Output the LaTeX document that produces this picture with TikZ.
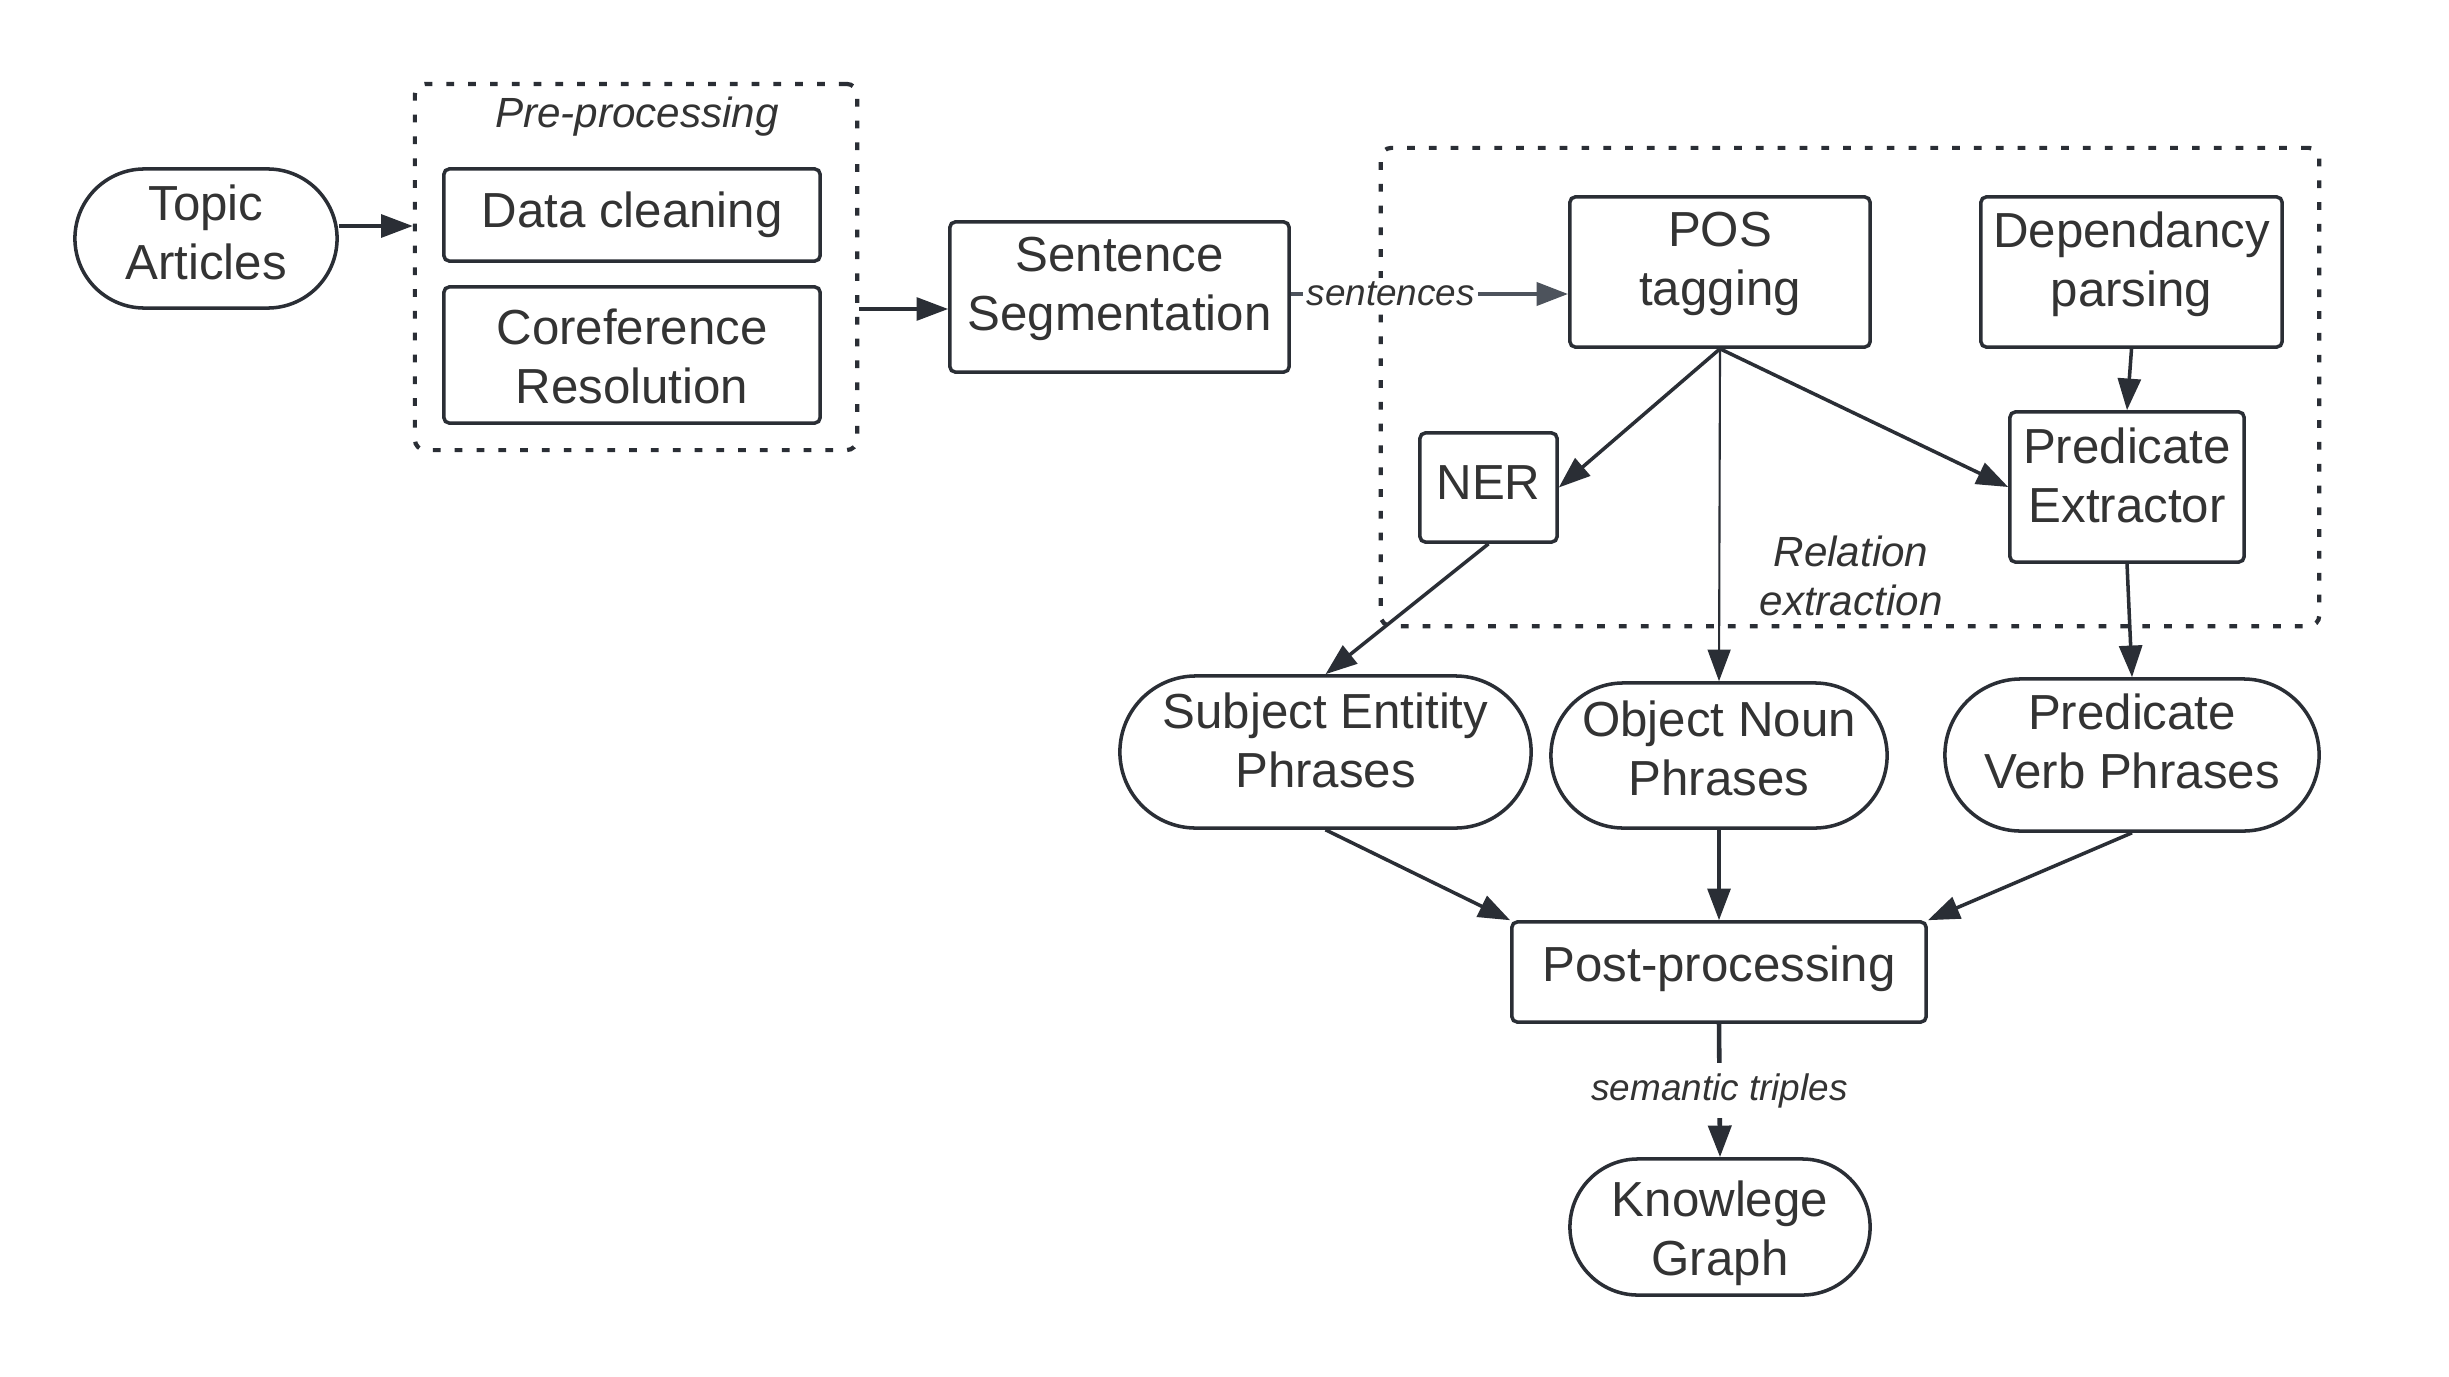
\documentclass[tikz,border=0pt]{standalone}
\usepackage{fontspec}
\setmainfont{Liberation Sans}
\usetikzlibrary{arrows.meta,calc}
\definecolor{ink}{HTML}{2A2E35}
\definecolor{txt}{HTML}{333333}
\definecolor{grayarr}{HTML}{4D535C}
\begin{document}
\begin{tikzpicture}[x=0.01cm,y=-0.01cm,
  box/.style={draw=ink,line width=1pt,rounded corners=1.5pt,inner sep=0pt},
  tx/.style={text=txt,font=\fontsize{14}{16.8}\selectfont,align=center,inner sep=0pt},
  grp/.style={draw=ink,line width=1.2pt,dash pattern=on 2.2pt off 4pt,rounded corners=3pt,inner sep=0pt},
  arr/.style={draw=ink,line width=1pt,-{Triangle[length=9pt,width=6.5pt]}},
  lab/.style={text=txt,font=\fontsize{10.5}{12.6}\selectfont\itshape,inner sep=1pt},
  glab/.style={text=txt,font=\fontsize{12}{14}\selectfont\itshape,align=center,inner sep=0pt}
]
\useasboundingbox[fill=white] (0,0) rectangle (2449,1376);

% group boxes
\node[grp,minimum width=4.42cm,minimum height=3.66cm] (preb) at (636,267) {};
\node[grp,minimum width=9.38cm,minimum height=4.78cm] (relb) at (1850,387) {};
\node[glab] (pretitle) at (637,117) {Pre-processing};
\node[glab] (reltitle) at (1851,576) {Relation\\extraction};

% node shapes
\node[box,minimum width=2.62cm,minimum height=1.39cm,rounded corners=0.695cm] (topic) at (206,238.5) {};
\node[box,minimum width=3.76cm,minimum height=0.92cm] (data) at (632,215) {};
\node[box,minimum width=3.76cm,minimum height=1.36cm] (coref) at (632,355) {};
\node[box,minimum width=3.39cm,minimum height=1.50cm] (sent) at (1119.5,297) {};
\node[box,minimum width=3.00cm,minimum height=1.50cm] (pos) at (1720,272) {};
\node[box,minimum width=3.01cm,minimum height=1.50cm] (dep) at (2131.5,272) {};
\node[box,minimum width=1.37cm,minimum height=1.09cm] (ner) at (1488.5,487.5) {};
\node[box,minimum width=2.34cm,minimum height=1.50cm] (pred) at (2127,487) {};
\node[box,minimum width=4.11cm,minimum height=1.52cm,rounded corners=0.76cm] (subj) at (1325.5,752) {};
\node[box,minimum width=3.36cm,minimum height=1.45cm,rounded corners=0.725cm] (obj) at (1719,755.5) {};
\node[box,minimum width=3.74cm,minimum height=1.52cm,rounded corners=0.76cm] (pverb) at (2132,755) {};
\node[box,minimum width=4.14cm,minimum height=1.00cm] (post) at (1719,972) {};
\node[box,minimum width=3.00cm,minimum height=1.36cm,rounded corners=0.68cm] (kg) at (1720,1227) {};

% node texts
\node[tx] (topic-t) at ($(topic)+(0,-6)$) {Topic\\Articles};
\node[tx] (data-t) at (data) {Data cleaning};
\node[tx] (coref-t) at ($(coref)+(0,1)$) {Coreference\\Resolution};
\node[tx] (sent-t) at ($(sent)+(0,-8)$) {Sentence\\Segmentation};
\node[tx] (pos-t) at ($(pos)+(0,-8)$) {POS\\tagging};
\node[tx] (dep-t) at ($(dep)+(0,-8)$) {Dependancy\\parsing};
\node[tx] (ner-t) at ($(ner)+(0,-5)$) {NER};
\node[tx] (pred-t) at ($(pred)+(0,-12)$) {Predicate\\Extractor};
\node[tx] (subj-t) at ($(subj)+(0,-12)$) {Subject Entitity\\Phrases};
\node[tx] (obj-t) at ($(obj)+(0,-7)$) {Object Noun\\Phrases};
\node[tx] (pverb-t) at ($(pverb)+(0,-14)$) {Predicate\\Verb Phrases};
\node[tx] (post-t) at ($(post)+(0,-3)$) {Post-processing};
\node[tx] (kg-t) at ($(kg)+(0,6)$) {Knowlege\\Graph};

% connectors
\draw[arr] (topic.east |- 0,226) -- (preb.west |- 0,226);
\draw[arr] (preb.east |- 0,309) -- (sent.west |- 0,309);
\draw[arr,draw=grayarr,line width=1.3pt] (sent.east |- 0,294) -- node[lab,fill=white,pos=0.36] (sentlab) {sentences} (pos.west |- 0,294);
\draw[arr] (pos.south) -- (ner.east);
\draw[arr,line width=0.6pt] (pos.south) -- (obj.north);
\draw[arr] (pos.south) -- (pred.west);
\draw[arr] (dep.south) -- (pred.north);
\draw[arr] (ner.south) -- (subj.north);
\draw[arr] (pred.south) -- (pverb.north);
\draw[arr] (subj.south) -- (post.north west);
\draw[arr] (obj.south) -- (post.north);
\draw[arr] (pverb.south) -- (post.north east);
\draw[arr,line width=1.3pt] (post.south) -- node[lab,fill=white,inner sep=3pt] (semlab) {semantic triples} (kg.north);
\end{tikzpicture}
\end{document}
